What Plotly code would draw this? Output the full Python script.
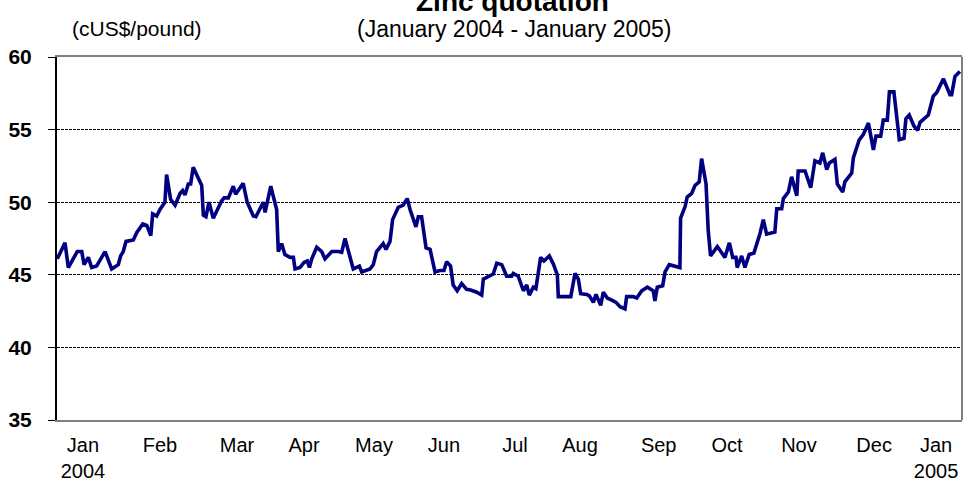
import pandas as pd
import plotly.graph_objects as go

START = "2004-01-02"

# days since START for each point of the series
day_offsets = [
    0.1, 3.4, 4.8, 8.6, 10.5, 11.5, 13.3, 14.7, 16.8, 20.4,
    23.2, 26.0, 27.0, 28.1, 29.3, 32.4, 33.8, 36.4, 38.1, 39.8,
    40.6, 42.3, 43.7, 45.8, 46.5, 48.2, 50.1, 52.2, 53.3, 54.3,
    55.7, 56.7, 57.8, 60.0, 61.4, 62.1, 63.2, 64.5, 66.3, 69.9,
    70.9, 72.7, 74.8, 75.8, 79.0, 80.7, 83.3, 84.4, 87.5, 88.3,
    90.7, 93.2, 93.9, 95.3, 96.7, 98.9, 100.3, 101.0, 103.1, 104.8,
    106.2, 107.1, 108.1, 110.2, 112.3, 113.7, 116.6, 119.4, 120.8, 122.2,
    125.7, 128.3, 129.3, 132.8, 134.2, 135.6, 138.4, 139.6, 141.3, 142.4,
    144.8, 146.9, 148.6, 149.8, 152.3, 153.3, 154.7, 156.6, 158.3, 160.4,
    162.5, 164.2, 165.3, 167.0, 168.1, 169.8, 171.7, 173.8, 175.5, 178.1,
    180.2, 180.9, 183.0, 185.1, 186.6, 188.7, 190.8, 192.9, 193.6, 195.7,
    197.9, 199.3, 200.4, 202.1, 203.2, 205.2, 206.6, 208.9, 210.6, 212.3,
    212.7, 218.0, 219.8, 221.2, 222.2, 224.8, 225.9, 227.6, 228.7, 230.7,
    231.8, 233.5, 235.4, 237.2, 238.9, 241.0, 241.7, 244.5, 246.0, 248.1,
    250.5, 253.0, 253.7, 254.7, 257.0, 258.0, 259.8, 261.5, 264.3, 264.6,
    266.5, 267.4, 269.3, 270.7, 272.5, 273.5, 275.4, 276.3, 277.3, 280.2,
    283.4, 285.3, 286.7, 288.1, 288.6, 290.5, 291.9, 293.7, 295.7, 298.3,
    299.7, 301.1, 304.6, 305.4, 307.5, 308.2, 310.3, 311.7, 313.9, 314.5,
    317.4, 319.8, 321.6, 323.7, 324.9, 326.6, 327.7, 330.1, 331.1, 333.4,
    334.3, 337.2, 337.9, 340.4, 342.1, 344.3, 346.4, 347.5, 349.5, 350.6,
    352.3, 353.2, 355.1, 357.4, 359.4, 360.2, 361.6, 363.6, 365.2, 366.2,
    369.7, 371.8, 373.3, 376.1, 378.9, 379.6, 381.0, 383.1,
]

# zinc price, cUS$/pound
price = [
    46.1, 47.2, 45.5, 46.6, 46.6, 45.7, 46.2, 45.5, 45.6, 46.6,
    45.4, 45.7, 46.3, 46.6, 47.3, 47.4, 47.9, 48.5, 48.4, 47.7,
    49.2, 49.05, 49.5, 50.0, 51.9, 50.2, 49.8, 50.6, 50.8, 50.5,
    51.25, 51.25, 52.4, 51.6, 51.15, 49.1, 49.0, 50.0, 48.9, 50.1,
    50.3, 50.3, 51.1, 50.55, 51.3, 50.0, 49.05, 49.0, 50.0, 49.3,
    51.1, 49.5, 46.6, 47.15, 46.4, 46.2, 46.2, 45.4, 45.5, 45.85,
    45.95, 45.5, 46.1, 46.9, 46.6, 46.1, 46.6, 46.6, 46.55, 47.5,
    45.4, 45.6, 45.2, 45.4, 45.7, 46.6, 47.15, 46.75, 47.3, 48.8,
    49.65, 49.8, 50.25, 49.5, 48.3, 49.0, 49.0, 46.85, 46.75, 45.2,
    45.3, 45.3, 45.9, 45.6, 44.3, 43.9, 44.4, 44.0, 43.95, 43.8,
    43.6, 44.7, 44.85, 45.05, 45.8, 45.7, 44.9, 44.9, 45.1, 44.9,
    43.9, 44.3, 43.6, 44.15, 44.05, 46.2, 45.95, 46.3, 45.75, 45.0,
    43.5, 43.5, 45.1, 44.7, 43.7, 43.65, 43.55, 43.1, 43.65, 42.9,
    43.8, 43.4, 43.25, 43.1, 42.8, 42.65, 43.5, 43.5, 43.4, 43.9,
    44.15, 43.9, 43.2, 44.15, 44.25, 45.2, 45.7, 45.6, 45.5, 48.9,
    49.7, 50.35, 50.6, 51.15, 51.4, 53.0, 51.25, 48.1, 46.3, 46.95,
    46.2, 47.2, 46.2, 46.2, 45.5, 46.3, 45.5, 46.4, 46.5, 47.85,
    48.8, 47.8, 47.95, 49.55, 49.55, 50.25, 50.7, 51.75, 50.45, 52.15,
    52.15, 51.0, 52.85, 52.7, 53.4, 52.25, 52.7, 52.95, 51.25, 50.7,
    51.4, 52.0, 53.05, 54.3, 54.65, 55.45, 53.6, 54.55, 54.55, 55.65,
    55.65, 57.6, 57.6, 54.3, 54.4, 55.75, 56.0, 55.25, 54.95, 55.5,
    56.0, 57.3, 57.55, 58.5, 57.4, 57.4, 58.65, 59.0,
]

tick_days = [11.0, 43.7, 76.4, 104.8, 134.5, 164.2, 194.3, 221.9,
             255.3, 284.3, 314.8, 346.7, 373.0]
tick_labels = ["Jan<br>2004", "Feb", "Mar", "Apr", "May", "Jun", "Jul",
               "Aug", "Sep", "Oct", "Nov", "Dec", "Jan<br>2005"]
x_range_days = [0, 384]
y_ticks = [35, 40, 45, 50, 55, 60]
y_range = [35, 60]

title_text = "Zinc quotation"
subtitle_text = "(January 2004 - January 2005)"
unit_text = "(cUS$/pound)"

base = pd.Timestamp(START)
to_date = lambda d: base + pd.to_timedelta(d, unit="D")
x = [to_date(d) for d in day_offsets]

FONT = "Liberation Sans, Arial, sans-serif"

fig = go.Figure(
    go.Scatter(
        x=x, y=price, mode="lines",
        line=dict(color="#000080", width=3.6),
        hoverinfo="x+y",
    )
)

fig.update_layout(
    width=968, height=488,
    margin=dict(l=57, r=6, t=57, b=60),
    paper_bgcolor="white", plot_bgcolor="white",
    showlegend=False,
    font=dict(family=FONT, color="black"),
)

fig.update_xaxes(
    type="date",
    range=[to_date(x_range_days[0]), to_date(x_range_days[1])],
    tickmode="array",
    tickvals=[to_date(d) for d in tick_days],
    ticktext=tick_labels,
    ticks="",
    showgrid=False,
    zeroline=False,
    showline=True, mirror=True, linecolor="#808080", linewidth=2,
    tickfont=dict(family=FONT, size=20, color="black"),
    ticklabelstandoff=6,
)

fig.update_yaxes(
    range=y_range,
    tickmode="array", tickvals=y_ticks,
    ticktext=[f"<b>{v}</b>" for v in y_ticks],
    ticks="outside", ticklen=7, tickcolor="black", tickwidth=1,
    showline=True, linecolor="black", linewidth=2,
    showgrid=True, gridcolor="black", gridwidth=1, griddash="3px,1px",
    zeroline=False,
    tickfont=dict(family=FONT, size=21, color="black"),
    ticklabelstandoff=12,
)

fig.add_shape(type="line", xref="paper", yref="paper", x0=1, x1=1, y0=0, y1=1,
              line=dict(color="#808080", width=2))

fig.add_annotation(text="<b>" + title_text + "</b>", xref="paper", yref="paper",
                   x=0.503, y=1.1536, xanchor="center", yanchor="middle",
                   showarrow=False,
                   font=dict(family=FONT, size=28, color="black"))
fig.add_annotation(text=subtitle_text, xref="paper", yref="paper", x=0.505, y=1.078,
                   xanchor="center", yanchor="middle", showarrow=False,
                   font=dict(family=FONT, size=23, color="black"))
fig.add_annotation(text=unit_text, xref="paper", yref="paper", x=0.0884, y=1.078,
                   xanchor="center", yanchor="middle", showarrow=False,
                   font=dict(family=FONT, size=21, color="black"))

fig.write_html("out.html", config={"displayModeBar": False},
               post_script="document.body.style.margin='0';")
